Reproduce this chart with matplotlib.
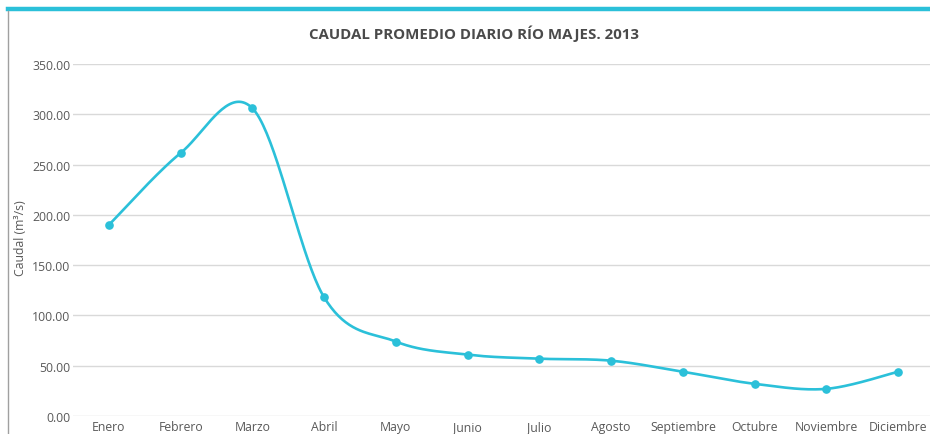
import numpy as np
import matplotlib
matplotlib.use("Agg")
import matplotlib.pyplot as plt
from matplotlib.lines import Line2D

months = ["Enero", "Febrero", "Marzo", "Abril", "Mayo", "Junio", "Julio",
          "Agosto", "Septiembre", "Octubre", "Noviembre", "Diciembre"]
caudal = [190.0, 261.5, 306.0, 118.0, 74.0, 61.0, 57.0, 55.0, 44.0, 32.0, 27.0, 44.0]
yticks = [0, 50, 100, 150, 200, 250, 300, 350]

title = "CAUDAL PROMEDIO DIARIO RÍO MAJES. 2013"
ylabel = "Caudal (m³/s)"

LINE = "#2bc0d9"
TXT = "#595959"

plt.rcParams['font.family'] = ['Open Sans', 'DejaVu Sans']

W, H = 930, 435
fig = plt.figure(figsize=(W / 100, H / 100), dpi=100)

# axes in pixel coordinates
left, right = 73, 934
bottom, top = 417, 65
ax = fig.add_axes([left / W, (H - bottom) / H, (right - left) / W, (bottom - top) / H])

x = np.arange(len(months), dtype=float)
y = np.array(caudal, dtype=float)

# Catmull-Rom smoothing (Excel-like smoothed line)
def catmull(xs, ys, n=40):
    px = np.concatenate([[xs[0]], xs, [xs[-1]]])
    py = np.concatenate([[ys[0]], ys, [ys[-1]]])
    outx, outy = [], []
    for i in range(1, len(px) - 2):
        x0, x1, x2, x3 = px[i - 1:i + 3]
        y0, y1, y2, y3 = py[i - 1:i + 3]
        mx1, mx2 = (x2 - x0) / 2, (x3 - x1) / 2
        my1, my2 = (y2 - y0) / 2, (y3 - y1) / 2
        t = np.linspace(0, 1, n, endpoint=(i == len(px) - 3))
        h00 = 2 * t**3 - 3 * t**2 + 1
        h10 = t**3 - 2 * t**2 + t
        h01 = -2 * t**3 + 3 * t**2
        h11 = t**3 - t**2
        outx.append(h00 * x1 + h10 * mx1 + h01 * x2 + h11 * mx2)
        outy.append(h00 * y1 + h10 * my1 + h01 * y2 + h11 * my2)
    return np.concatenate(outx), np.concatenate(outy)

sx, sy = catmull(x, y)
ax.plot(sx, sy, color=LINE, lw=1.9, solid_capstyle='round', zorder=3)
ax.plot(x, y, 'o', color=LINE, ms=5.2, zorder=4)

ax.set_xlim(-0.5, len(months) - 0.5)
ax.set_ylim(0, 350)
ax.set_yticks(yticks)
ax.set_yticklabels([f"{v:.2f}" for v in yticks])
ax.set_xticks(x)
ax.set_xticklabels(months)
ax.tick_params(axis='both', length=0, labelsize=8.8, colors=TXT)
ax.tick_params(axis='y', pad=2)
ax.tick_params(axis='x', pad=3)
ax.grid(axis='y', color='#d9d9d9', lw=1.0)
ax.set_axisbelow(True)
for s in ax.spines.values():
    s.set_visible(False)

fig.text(20 / W, 1 - 238 / H, ylabel, rotation=90, ha='center', va='center',
         fontsize=8.8, color=TXT)
fig.text(474 / W, 1 - 34 / H, title, ha='center', va='center',
         fontsize=10.8, fontweight='bold', color='#4a4a4a')

# decorative frame: top cyan band and left border
fig.add_artist(Line2D([8 / W, 1], [1 - 10 / H, 1 - 10 / H], color=LINE, lw=3.2,
                      transform=fig.transFigure))
fig.add_artist(Line2D([8 / W, 8 / W], [0, 1 - 12 / H], color='#a0a0a0', lw=1.0,
                      transform=fig.transFigure))

fig.savefig("out.png", dpi=100)
